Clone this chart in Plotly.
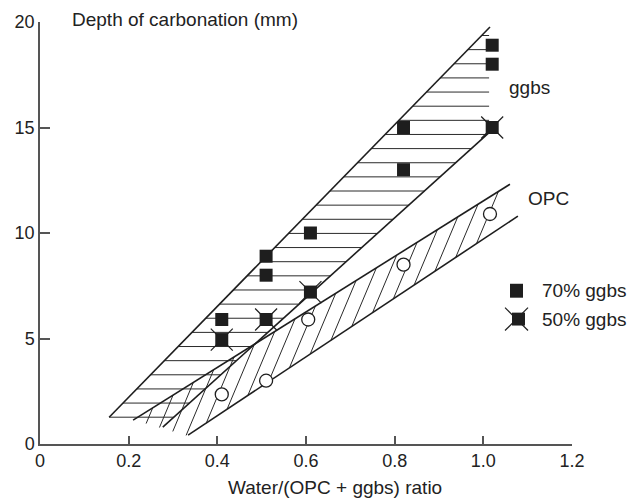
import numpy as np
import plotly.graph_objects as go

# ---- values ----
x_70 = [0.41, 0.51, 0.51, 0.61, 0.82, 0.82, 1.02, 1.02]
y_70 = [5.9, 8.9, 8.0, 10.0, 15.0, 13.0, 18.0, 18.9]
x_50 = [0.41, 0.51, 0.61, 1.02]
y_50 = [4.95, 5.9, 7.2, 15.0]
x_opc = [0.41, 0.51, 0.605, 0.82, 1.015]
y_opc = [2.35, 3.0, 5.9, 8.5, 10.9]

# band boundaries (end points)
ggbs_upper_x = [0.156, 1.015]
ggbs_upper_y = [1.27, 19.76]
ggbs_lower_x = [0.277, 1.011]
ggbs_lower_y = [0.80, 14.72]
opc_upper_x = [0.210, 1.060]
opc_upper_y = [1.13, 12.31]
opc_lower_x = [0.334, 1.078]
opc_lower_y = [0.42, 10.80]
opc_floor_x = [0.244, 0.334]
opc_floor_y = [0.94, 0.38]

x_ticks = [0, 0.2, 0.4, 0.6, 0.8, 1.0, 1.2]
x_ticktext = ["0", "0.2", "0.4", "0.6", "0.8", "1.0", "1.2"]
y_ticks = [0, 5, 10, 15, 20]

INK = "#1e1e1e"


def line_coef(xs, ys):
    b = (ys[1] - ys[0]) / (xs[1] - xs[0])
    return ys[0] - b * xs[0], b


# ---- horizontal hatching of the ggbs band ----
au, bu = line_coef(ggbs_upper_x, ggbs_upper_y)
al, bl = line_coef(ggbs_lower_x, ggbs_lower_y)
hx, hy = [], []
right_lim = 1.013
for yv in np.arange(ggbs_upper_y[0], 19.45, 0.67):
    xl = (yv - au) / bu
    xr = min((yv - al) / bl, right_lim)
    if xr > xl:
        hx += [xl, xr, None]
        hy += [yv, yv, None]

# ---- diagonal hatching of the OPC band ----
m = 50.0  # slope of hatch strokes (data units)
ou_a, ou_b = line_coef(opc_upper_x, opc_upper_y)
ol_a, ol_b = line_coef(opc_lower_x, opc_lower_y)
of_a, of_b = line_coef(opc_floor_x, opc_floor_y)


def meet(a, b, x0):
    return (a + b * x0) / (1 - b / m)


dx, dy = [], []
for x0 in np.arange(0.22, 1.10, 0.0338):
    yt = meet(ou_a, ou_b, x0)
    xt = x0 + yt / m
    if xt < 0.235 or xt > 1.062:
        continue
    yb = max(meet(ol_a, ol_b, x0), meet(of_a, of_b, x0))
    if yb >= yt:
        continue
    dx += [x0 + yb / m, xt, None]
    dy += [yb, yt, None]

fig = go.Figure()
fig.add_trace(go.Scatter(x=hx, y=hy, mode="lines", line=dict(color="#2a2a2a", width=1),
                         showlegend=False, hoverinfo="skip"))
fig.add_trace(go.Scatter(x=dx, y=dy, mode="lines", line=dict(color="#2a2a2a", width=1),
                         showlegend=False, hoverinfo="skip"))
for bx, by in [(ggbs_upper_x, ggbs_upper_y), (ggbs_lower_x, ggbs_lower_y),
               (opc_upper_x, opc_upper_y), (opc_lower_x, opc_lower_y)]:
    fig.add_trace(go.Scatter(x=bx, y=by, mode="lines", line=dict(color=INK, width=1.6),
                             showlegend=False, hoverinfo="skip"))

fig.add_trace(go.Scatter(x=x_opc, y=y_opc, mode="markers", name="OPC",
                         marker=dict(symbol="circle", size=13, color="white",
                                     line=dict(color=INK, width=1.3)),
                         showlegend=False))
fig.add_trace(go.Scatter(x=x_50, y=y_50, mode="markers", name="50% ggbs x",
                         marker=dict(symbol="x-thin", size=22,
                                     line=dict(color=INK, width=1.2)),
                         showlegend=False))
fig.add_trace(go.Scatter(x=x_50, y=y_50, mode="markers", name="50% ggbs",
                         marker=dict(symbol="square", size=13, color=INK, line=dict(width=0)),
                         showlegend=False))
fig.add_trace(go.Scatter(x=x_70, y=y_70, mode="markers", name="70% ggbs",
                         marker=dict(symbol="square", size=13, color=INK, line=dict(width=0)),
                         showlegend=False))

FONT = "Liberation Sans, Arial, sans-serif"

# manual legend (paper coordinates)
shapes = []
shapes.append(dict(type="rect", xref="paper", yref="paper",
                   x0=0.8835, x1=0.9079, y0=0.3467, y1=0.3797,
                   fillcolor=INK, line=dict(width=0)))
shapes.append(dict(type="line", xref="paper", yref="paper",
                   x0=0.8741, y0=0.2689, x1=0.9173, y1=0.3231, line=dict(color=INK, width=1.2)))
shapes.append(dict(type="line", xref="paper", yref="paper",
                   x0=0.8741, y0=0.3231, x1=0.9173, y1=0.2689, line=dict(color=INK, width=1.2)))
shapes.append(dict(type="rect", xref="paper", yref="paper",
                   x0=0.8872, x1=0.9117, y0=0.2807, y1=0.3113,
                   fillcolor=INK, line=dict(width=0)))

TF = dict(family=FONT, size=19, color="#222")
annotations = [
    dict(text="70% ggbs", xref="paper", yref="paper", x=0.9398, y=0.3632, font=TF,
         xanchor="left", yanchor="middle", showarrow=False),
    dict(text="50% ggbs", xref="paper", yref="paper", x=0.9398, y=0.2960, font=TF,
         xanchor="left", yanchor="middle", showarrow=False),
    dict(text="ggbs", x=1.103, y=16.9, xanchor="center", yanchor="middle", font=TF,
         showarrow=False),
    dict(text="OPC", x=1.146, y=11.65, xanchor="center", yanchor="middle", font=TF,
         showarrow=False),
    dict(text="Depth of carbonation (mm)", xref="paper", yref="paper", x=0.056, y=1.005,
         font=TF, xanchor="left", yanchor="middle", showarrow=False),
    dict(text="Water/(OPC + ggbs) ratio", xref="paper", yref="paper", x=0.555, y=-0.104,
         font=TF, xanchor="center", yanchor="middle", showarrow=False),
]

fig.update_layout(
    width=628, height=499,
    margin=dict(l=40, r=56, t=20, b=55, pad=0),
    paper_bgcolor="white", plot_bgcolor="white",
    font=dict(family=FONT, size=18, color="#222"),
    showlegend=False,
    shapes=shapes,
    annotations=annotations,
    xaxis=dict(range=[0, 1.2], tickvals=x_ticks, ticktext=x_ticktext,
               ticks="inside", ticklen=8, tickwidth=1.5, tickcolor="#555",
               showline=True, linecolor="#555", linewidth=1.5,
               showgrid=False, zeroline=False),
    yaxis=dict(range=[0, 20], tickvals=y_ticks,
               ticks="inside", ticklen=10, tickwidth=1.5, tickcolor="#555",
               showline=True, linecolor="#555", linewidth=1.5,
               showgrid=False, zeroline=False),
)

fig.write_html("out.html",
               config={"displayModeBar": False},
               post_script="document.body.style.margin='0';document.body.style.overflow='hidden';")
